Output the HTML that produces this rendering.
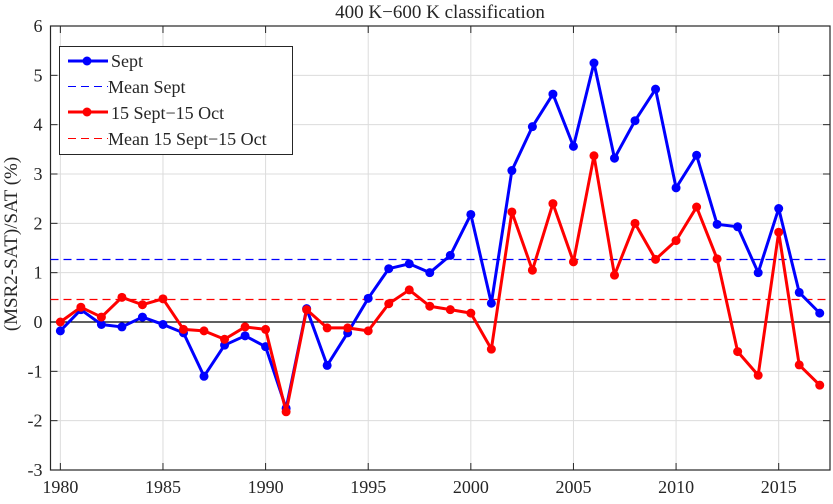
<!DOCTYPE html>
<html><head><meta charset="utf-8"><style>
body{margin:0;background:#fff;}
svg text{font-family:"Liberation Serif",serif;fill:#262626;}
</style></head><body>
<svg id="chart" width="833" height="499" xmlns="http://www.w3.org/2000/svg">
<g id="grid"></g>
<g id="axes"></g>
<g id="series"></g>
<text x="440" y="18" font-size="19" text-anchor="middle">400 K−600 K classification</text>
<text transform="translate(17,244) rotate(-90)" font-size="19" text-anchor="middle">(MSR2-SAT)/SAT (%)</text>
<g>
<rect x="59.5" y="46.5" width="233" height="108" fill="#fff" stroke="#262626" stroke-width="1"/>
<g><line x1="68" y1="61" x2="108" y2="61" stroke="#0000ff" stroke-width="3"/><circle cx="87" cy="61" r="4.5" fill="#0000ff"/><text x="111" y="67" font-size="18">Sept</text></g>
<g><line x1="68" y1="86.5" x2="108" y2="86.5" stroke="#0000ff" stroke-width="1" stroke-dasharray="8,5"/><text x="108" y="93" font-size="18">Mean Sept</text></g>
<g><line x1="68" y1="112" x2="108" y2="112" stroke="#ff0000" stroke-width="3"/><circle cx="87" cy="112" r="4.5" fill="#ff0000"/><text x="111" y="119" font-size="18">15 Sept−15 Oct</text></g>
<g><line x1="68" y1="138.5" x2="108" y2="138.5" stroke="#ff0000" stroke-width="1" stroke-dasharray="8,5"/><text x="108" y="145" font-size="18">Mean 15 Sept−15 Oct</text></g>
</g>
</svg>
<script>
const years=[1980,1981,1982,1983,1984,1985,1986,1987,1988,1989,1990,1991,1992,1993,1994,1995,1996,1997,1998,1999,2000,2001,2002,2003,2004,2005,2006,2007,2008,2009,2010,2011,2012,2013,2014,2015,2016,2017];
const septValues=[-0.18,0.25,-0.05,-0.1,0.1,-0.05,-0.22,-1.1,-0.47,-0.28,-0.5,-1.75,0.27,-0.88,-0.22,0.48,1.08,1.18,1.0,1.35,2.18,0.38,3.07,3.96,4.62,3.56,5.25,3.32,4.08,4.72,2.72,3.38,1.98,1.93,1.0,2.3,0.6,0.18];
const octValues=[0.0,0.3,0.1,0.5,0.35,0.47,-0.15,-0.18,-0.35,-0.1,-0.15,-1.82,0.25,-0.12,-0.12,-0.18,0.37,0.65,0.32,0.25,0.18,-0.55,2.23,1.05,2.4,1.22,3.37,0.95,2.0,1.27,1.65,2.33,1.28,-0.6,-1.08,1.82,-0.87,-1.28];
const meanSept=1.28;
const meanOct=0.47;
const xTicks=[1980,1985,1990,1995,2000,2005,2010,2015];
const yTicks=[-3,-2,-1,0,1,2,3,4,5,6];
const L=50.5,R=830,T=26,B=470;
const xMin=1979.52,xMax=2017.5,yMin=-3,yMax=6;
const X=v=>L+(v-xMin)/(xMax-xMin)*(R-L);
const Y=v=>B-(v-yMin)/(yMax-yMin)*(B-T);
const NS="http://www.w3.org/2000/svg";
function mk(tag,attrs,parent){const e=document.createElementNS(NS,tag);for(const k in attrs)e.setAttribute(k,attrs[k]);parent.appendChild(e);return e;}
const grid=document.getElementById('grid'),axes=document.getElementById('axes'),series=document.getElementById('series');
xTicks.forEach(t=>{
 const g=mk('line',{x1:X(t),x2:X(t),y1:T,y2:B,stroke:'#dcdcdc','stroke-width':1},grid);
 
 
 mk('line',{x1:X(t),x2:X(t),y1:B,y2:B-7,stroke:'#262626'},axes);
 mk('line',{x1:X(t),x2:X(t),y1:T,y2:T+7,stroke:'#262626'},axes);
 const tx=mk('text',{x:X(t),y:B+23,'font-size':18,'text-anchor':'middle'},axes);
 tx.textContent=t;
 
 
});
yTicks.forEach(t=>{
 const g=mk('line',{x1:L,x2:R,y1:Y(t),y2:Y(t),stroke:'#dcdcdc','stroke-width':1},grid);
 
 
 mk('line',{x1:L,x2:L+7,y1:Y(t),y2:Y(t),stroke:'#262626'},axes);
 mk('line',{x1:R,x2:R-7,y1:Y(t),y2:Y(t),stroke:'#262626'},axes);
 const tx=mk('text',{x:L-8,y:Y(t)+6,'font-size':18,'text-anchor':'end'},axes);
 tx.textContent=t;
 
 
});
const box=mk('rect',{x:L,y:T,width:R-L,height:B-T,fill:'none',stroke:'#262626','stroke-width':1.2},axes);


const zl=mk('line',{x1:L,x2:R,y1:Y(0),y2:Y(0),stroke:'#000','stroke-width':1.2},series);


[[meanSept,'#0000ff','mean-sept-line'],[meanOct,'#ff0000','mean-15sept-15oct-line']].forEach(([m,c,n])=>{
 const yy=Math.round(Y(m))+0.5;
 const l=mk('line',{x1:L,x2:R,y1:yy,y2:yy,stroke:c,'stroke-width':1.2,'stroke-dasharray':'8,5'},series);
 
 
});
[[septValues,'#0000ff','sept'],[octValues,'#ff0000','15sept-15oct']].forEach(([vals,c,n])=>{
 const p=mk('polyline',{points:vals.map((v,i)=>X(years[i])+','+Y(v)).join(' '),fill:'none',stroke:c,'stroke-width':3,'stroke-linejoin':'round'},series);
 
 
 vals.forEach((v,i)=>{
  const ci=mk('circle',{cx:X(years[i]),cy:Y(v),r:4.5,fill:c},series);
  
  
 });
});
</script>
</body></html>
